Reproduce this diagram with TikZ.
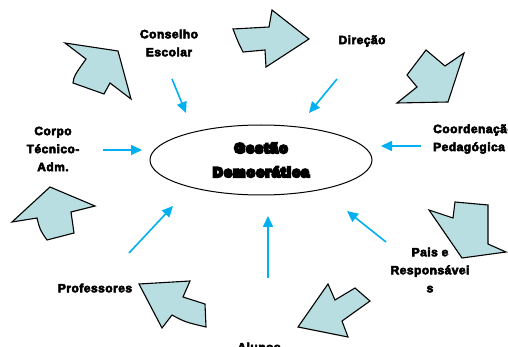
\documentclass[tikz,border=0pt]{standalone}
\usepackage{fontspec}
\usepackage{tikz}
\usetikzlibrary{arrows.meta,positioning,shapes.geometric}
\setmainfont{Liberation Sans}
\newfontfamily\lblfont{Liberation Sans}[LetterSpace=4]
\newfontfamily\heavyfont{Liberation Sans}[LetterSpace=11]
\newcommand{\stroked}[2]{\special{pdf:literal direct #1 w 2 Tr}#2\special{pdf:literal direct 0 Tr}}
\definecolor{arrowcyan}{RGB}{0,176,240}
\definecolor{shapeteal}{RGB}{184,222,225}

\begin{document}
\begin{tikzpicture}[x=1pt,y=-1pt,
  lbl/.style={font=\lblfont\bfseries\fontsize{12}{18}\selectfont, align=center, inner sep=0pt},
  link/.style={-{Triangle[length=11pt,width=10pt]}, arrowcyan, line width=1.6pt},
  blob/.style={draw=black, fill=shapeteal, line width=1.1pt, line join=miter}]
\useasboundingbox (0,0) rectangle (508,347);

% Centre
\node[ellipse, draw, line width=1pt, minimum width=222pt, minimum height=70pt,
      font=\heavyfont\bfseries\fontsize{13.5}{24}\selectfont, align=center] (gestao) at (261,160)
      {\stroked{2.5}{Gestão}\\\stroked{2.5}{Democrática}};

% Labels
\node[lbl] (conselho) at (169,43) {\stroked{0.55}{Conselho}\\\stroked{0.55}{Escolar}};
\node[lbl] (direcao) at (362,41) {\stroked{0.55}{Direção}};
\node[lbl, anchor=west, align=left] (coord) at (433,139) {\stroked{0.55}{Coordenação}\\\stroked{0.55}{Pedagógica}};
\node[lbl] (corpo) at (53,149) {\stroked{0.55}{Corpo}\\\stroked{0.55}{Técnico-}\\\stroked{0.55}{Adm.}};
\node[lbl] (prof) at (95,288) {\stroked{0.55}{Professores}};
\node[lbl] (pais) at (430,270) {\stroked{0.55}{Pais e}\\\stroked{0.55}{Responsávei}\\\stroked{0.55}{s}};
\node[lbl] (alunos) at (259,347) {\stroked{0.55}{Alunos}};

% Arrow ends
\coordinate (c1) at (172,79);  \coordinate (c2) at (186,113);
\coordinate (d1) at (337,79);  \coordinate (d2) at (309,113);
\coordinate (k1) at (421,146); \coordinate (k2) at (381,146);
\coordinate (t1) at (103,150); \coordinate (t2) at (142,150);
\coordinate (p1) at (129,253); \coordinate (p2) at (173,206);
\coordinate (a1) at (268,278); \coordinate (a2) at (268,216);
\coordinate (r1) at (386,242); \coordinate (r2) at (347,211);

\draw[link] (c1) -- (c2);
\draw[link] (d1) -- (d2);
\draw[link] (k1) -- (k2);
\draw[link] (t1) -- (t2);
\draw[link] (p1) -- (p2);
\draw[link] (a1) -- (a2);
\draw[link] (r1) -- (r2);

% Circular block arrows
\draw[blob] (65,43) -- (118,51) -- (131,99) -- (110,83) -- (104,94) -- (73,83)
  .. controls (74,76) .. (86,59) -- cycle;
\draw[blob] (233,29) -- (269,27) -- (272,10) -- (309,39) -- (266,67) -- (265,50)
  -- (243,52) .. controls (238,42) .. cycle;
\draw[blob] (426,50) -- (445,66) -- (464,53) -- (448,102) -- (397,103) -- (417,87)
  -- (407,75) -- cycle;
\draw[blob] (429,210) -- (453,218) -- (455,202) -- (488,205) -- (488,244)
  -- (506,252) -- (462,258) -- cycle;
\draw[blob] (298,327) -- (328,284) -- (335,300) -- (355,288) -- (370,301)
  -- (342,321) -- (348,337) -- cycle;
\draw[blob] (139,284) -- (190,281) -- (183,297) -- (205,304) -- (206,327)
  .. controls (185,322) .. (172,315) -- (162,328) -- cycle;
\draw[blob] (12,222) -- (50,187) -- (95,206) -- (71,212) -- (74,233) -- (47,240)
  .. controls (40,230) .. (37,218) -- cycle;

\end{tikzpicture}
\end{document}
